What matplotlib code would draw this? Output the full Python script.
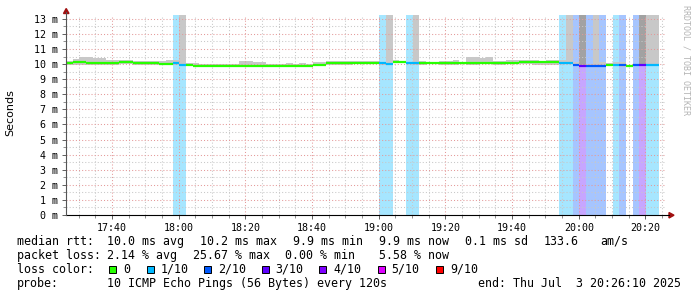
import numpy as np
import matplotlib
matplotlib.use('Agg')
import matplotlib.pyplot as plt
import matplotlib.dates as mdates
from matplotlib.patches import Rectangle, Polygon
from matplotlib.ticker import MultipleLocator, FuncFormatter

W, H = 697, 297

# ---------------- data ----------------
start_time = np.datetime64('2025-07-03T17:26:10')
step_seconds = 120
n_steps = 90

median_ms = [10.05, 10.12, 10.12, 10.08, 10.08, 10.10, 10.10, 10.10, 10.12, 10.12,
             10.10, 10.05, 10.05, 10.05, 10.03, 10.02, 10.05, 9.97, 9.92, 9.90,
             9.90, 9.90, 9.87, 9.87, 9.90, 9.90, 9.90, 9.90, 9.90, 9.90,
             9.90, 9.90, 9.88, 9.88, 9.88, 9.86, 9.86, 9.95, 9.95, 10.05,
             10.05, 10.05, 10.05, 10.07, 10.07, 10.07, 10.08, 10.05, 10.02, 10.15,
             10.15, 10.08, 10.05, 10.08, 10.10, 10.10, 10.10, 10.10, 10.10, 10.10,
             10.05, 10.05, 10.10, 10.10, 10.10, 10.10, 10.10, 10.10, 10.12, 10.12,
             10.12, 10.12, 10.12, 10.12, 10.08, 10.08, 9.97, 9.88, 9.90, 9.90,
             9.90, 9.95, 9.97, 9.93, 9.88, 9.92, 9.93, 9.97, 9.97, np.nan]

smoke_hi_ms = [10.18, 10.35, 10.48, 10.48, 10.42, 10.42, 10.28, 10.25, 10.25, 10.25,
               10.22, 10.22, 10.22, 10.20, 10.20, 10.28, 10.28, 20.0, 10.08, 10.08,
               10.00, 10.00, 10.02, 9.98, 9.98, 10.00, 10.20, 10.20, 10.15, 10.15,
               10.00, 10.00, 10.00, 10.10, 9.98, 10.10, 9.98, 10.15, 10.15, 10.20,
               10.20, 10.20, 10.20, 10.20, 10.20, 10.20, 10.20, 10.12, 20.0, 10.27,
               10.22, 10.12, 20.0, 10.20, 10.15, 10.15, 10.20, 10.20, 10.25, 10.15,
               10.47, 10.47, 10.37, 10.47, 10.20, 10.20, 10.25, 10.25, 10.25, 10.25,
               10.25, 10.20, 10.25, 10.25, 10.27, 20.0, 10.15, 20.0, 10.00, 20.0,
               10.15, 10.05, 10.15, 10.15, 9.95, 9.98, 20.0, 20.0, 20.0, np.nan]

smoke_lo_ms = [9.97, 9.95, 9.95, 9.93, 9.93, 9.93, 9.97, 9.97, 9.98, 9.98,
               9.97, 9.95, 9.95, 9.95, 9.93, 9.93, 9.97, 9.90, 9.85, 9.83,
               9.83, 9.83, 9.80, 9.80, 9.83, 9.83, 9.83, 9.83, 9.83, 9.83,
               9.83, 9.83, 9.80, 9.80, 9.80, 9.80, 9.80, 9.88, 9.88, 9.97,
               9.97, 9.97, 9.97, 9.98, 9.98, 9.98, 9.98, 9.97, 9.95, 10.05,
               10.05, 10.00, 9.97, 9.97, 9.98, 9.98, 9.93, 9.93, 9.95, 9.98,
               9.95, 9.95, 9.98, 9.98, 9.95, 9.95, 9.98, 9.98, 10.00, 10.00,
               9.95, 9.95, 9.95, 9.93, 9.98, 9.98, 9.90, 9.80, 9.83, 9.83,
               9.83, 9.85, 9.90, 9.80, 9.80, 9.85, 9.85, 9.90, 9.90, np.nan]

dark_smoke_hi_ms = [np.nan] * 77 + [20.0] + [np.nan] * 8 + [20.0] + [np.nan] * 3

loss_tenths = [0] * 16 + [1, 1] + [0] * 29 + [1, 1, 0, 0, 1, 1] + [0] * 21 + \
              [1, 1, 2, 3, 2, 2, 2, 0, 1, 2, 0, 2, 3, 1, 1, 0]

loss_labels = ['0', '1/10', '2/10', '3/10', '4/10', '5/10', '9/10']
loss_colors = ['#26ff00', '#00b8ff', '#0059ff', '#5e00ff', '#7e00ff', '#dd00ff', '#ff0000']

stats_rows = [
    [(16.7, 'median rtt:'), (107.3, '10.0 ms avg'), (200.0, '10.2 ms max'),
     (293.3, '9.9 ms min'), (379.3, '9.9 ms now'), (465.0, '0.1 ms sd'),
     (544.0, '133.6'), (600.0, 'am/s')],
    [(16.7, 'packet loss:'), (107.3, '2.14 % avg'), (193.3, '25.67 % max'),
     (285.0, '0.00 % min'), (379.3, '5.58 % now')],
    [(16.7, 'loss color:')],
    [(16.7, 'probe:'), (107.3, '10 ICMP Echo Pings (56 Bytes) every 120s'),
     (478.3, 'end: Thu Jul  3 20:26:10 2025')],
]

# ---------------- helpers ----------------
def fx(x):
    return x / W

def fy(y):
    return 1 - y / H

def lighten(hexcol, a=0.35):
    c = np.array(matplotlib.colors.to_rgb(hexcol))
    return tuple(1 - a * (1 - c))

edges = start_time + np.arange(n_steps + 1) * np.timedelta64(step_seconds, 's')
xe = mdates.date2num(edges)
xl = xe[:-1]
width = step_seconds / 86400.0

med = np.array(median_ms, dtype=float)
shi = np.array(smoke_hi_ms, dtype=float)
slo = np.array(smoke_lo_ms, dtype=float)
dhi = np.array(dark_smoke_hi_ms, dtype=float)
loss = np.array(loss_tenths)

fig = plt.figure(figsize=(W / 100, H / 100), dpi=100)
ax = fig.add_axes([fx(66), fy(215), 600 / W, 200 / H])
ax.set_xlim(xe[0], xe[-1])
ax.set_ylim(0, 13.25)

level_of = {0: 0, 1: 1, 2: 2, 3: 3, 4: 4, 5: 5, 9: 6}

# loss background bars
for k in range(n_steps):
    if loss[k] > 0:
        ax.axvspan(xe[k], xe[k + 1], color=lighten(loss_colors[level_of[int(loss[k])]]),
                   lw=0, zorder=1)

# smoke
ok = ~np.isnan(shi)
ax.bar(xl[ok], (shi - slo)[ok], bottom=slo[ok], width=width, align='edge',
       color='#c8c8c8', lw=0, zorder=1.5)
okd = ~np.isnan(dhi)
ax.bar(xl[okd], (dhi - med)[okd], bottom=med[okd], width=width, align='edge',
       color='#a2a2a2', lw=0, zorder=1.6)

# median line
for k in range(n_steps):
    if not np.isnan(med[k]):
        col = loss_colors[level_of[int(loss[k])]]
        ax.plot([xe[k], xe[k + 1]], [med[k], med[k]], color=col, lw=1.6,
                solid_capstyle='butt', zorder=4)

# grid
ax.xaxis.set_major_locator(mdates.MinuteLocator(byminute=[0, 20, 40]))
ax.xaxis.set_minor_locator(mdates.MinuteLocator(byminute=range(0, 60, 5)))
ax.xaxis.set_major_formatter(mdates.DateFormatter('%H:%M'))
ax.yaxis.set_major_locator(MultipleLocator(1))
ax.yaxis.set_minor_locator(MultipleLocator(0.5))
ax.yaxis.set_major_formatter(FuncFormatter(lambda v, p: f'{int(round(v))} m'))
ax.set_axisbelow(False)
ax.grid(which='minor', color='#c8c8c8', ls=(0, (1, 2)), lw=0.75, zorder=2.5)
ax.grid(which='major', color='#e49a9a', ls=(0, (1, 2)), lw=0.75, zorder=2.6)

for s in ax.spines.values():
    s.set_visible(False)

ax.tick_params(which='major', direction='out', length=3, width=0.7, color='#606060',
               labelsize=7.2, pad=2.5)
ax.tick_params(which='minor', direction='out', length=2, width=0.7, color='#909090')
for lab in ax.get_xticklabels() + ax.get_yticklabels():
    lab.set_family('DejaVu Sans Mono')

# axes lines and arrows
fig.add_artist(plt.Line2D([fx(66), fx(669)], [fy(215), fy(215)], color='black', lw=0.8,
                          transform=fig.transFigure))
fig.add_artist(plt.Line2D([fx(66), fx(66)], [fy(215), fy(12)], color='#555555', lw=0.8,
                          transform=fig.transFigure))
fig.add_artist(Polygon([[fx(63.5), fy(13.5)], [fx(69.0), fy(13.5)], [fx(66.2), fy(8.5)]],
                       closed=True, color='#a01010', transform=fig.transFigure))
fig.add_artist(Polygon([[fx(669), fy(212.5)], [fx(669), fy(218.0)], [fx(674), fy(215.2)]],
                       closed=True, color='#a01010', transform=fig.transFigure))

# labels
fig.text(fx(10), fy(113), 'Seconds', rotation=90, fontsize=8, family='DejaVu Sans',
         ha='center', va='center')
fig.text(fx(686), fy(5), 'RRDTOOL / TOBI OETIKER', rotation=270, fontsize=6,
         family='DejaVu Sans Mono', color='#b4b4b4', ha='center', va='top')

# legend / stats
baselines = [245, 259, 273, 287]
for row, base in zip(stats_rows, baselines):
    for x, t in row:
        fig.text(fx(x), fy(base), t, fontsize=8.4, family='DejaVu Sans Mono',
                 ha='left', va='baseline')

sq_x = [109, 146.7, 204, 261.7, 319.3, 377.7, 436]
for x, lab, col in zip(sq_x, loss_labels, loss_colors):
    fig.add_artist(Rectangle((fx(x), fy(273)), 7 / W, 7.5 / H, transform=fig.transFigure,
                             facecolor=col, edgecolor='black', lw=0.7))
    fig.text(fx(x + 14), fy(273), lab, fontsize=8.4, family='DejaVu Sans Mono',
             ha='left', va='baseline')

fig.savefig('out.png', dpi=100)
